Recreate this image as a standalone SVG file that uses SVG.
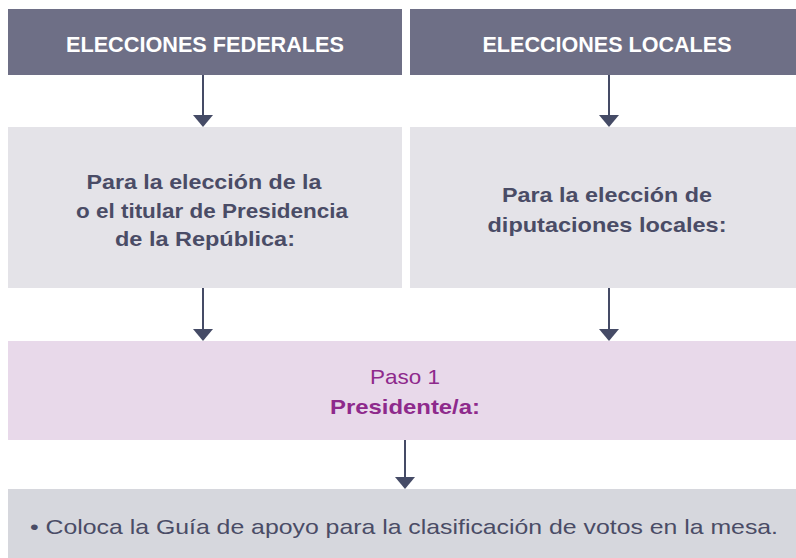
<svg xmlns="http://www.w3.org/2000/svg" width="796" height="558" viewBox="0 0 796 558">
<defs>
<style>
.hdr{fill:#6e6f86}
.gry{fill:#e4e3e8}
.pnk{fill:#e8d9ea}
.bot{fill:#d6d7dd}
.ht{font-family:"Liberation Sans",Arial,sans-serif;font-size:22px;font-weight:bold;fill:#ffffff;text-anchor:middle}
.bt{font-family:"Liberation Sans",Arial,sans-serif;font-size:21px;font-weight:bold;fill:#4a4c66;text-anchor:middle}
.pt{font-family:"Liberation Sans",Arial,sans-serif;font-size:21px;fill:#8e2a8c;text-anchor:middle}
.lt{font-family:"Liberation Sans",Arial,sans-serif;font-size:21px;fill:#4a4c66}
.con{stroke:#454b66;stroke-width:2;fill:none}
.head{fill:#454b66}
</style>
</defs>
<rect width="796" height="558" fill="#ffffff"/>
<g id="n-federales"><rect class="hdr" x="8" y="9" width="394" height="66"/><text class="ht" x="205" y="52" textLength="278" lengthAdjust="spacingAndGlyphs">ELECCIONES FEDERALES</text></g>
<g id="n-locales"><rect class="hdr" x="410" y="9" width="386" height="66"/><text class="ht" x="607" y="52" textLength="249" lengthAdjust="spacingAndGlyphs">ELECCIONES LOCALES</text></g>
<g id="n-presidencia"><rect class="gry" x="8" y="127" width="394" height="161"/>
<text class="bt" x="204" y="189" textLength="235" lengthAdjust="spacingAndGlyphs">Para la elección de la</text>
<text class="bt" x="212" y="218" textLength="272" lengthAdjust="spacingAndGlyphs">o el titular de Presidencia</text>
<text class="bt" x="205" y="246" textLength="180" lengthAdjust="spacingAndGlyphs">de la República:</text></g>
<g id="n-diputaciones"><rect class="gry" x="410" y="127" width="386" height="161"/>
<text class="bt" x="607" y="202" textLength="210" lengthAdjust="spacingAndGlyphs">Para la elección de</text>
<text class="bt" x="607" y="232" textLength="239" lengthAdjust="spacingAndGlyphs">diputaciones locales:</text></g>
<g id="n-paso1"><rect class="pnk" x="8" y="341" width="788" height="99"/>
<text class="pt" x="405" y="384" textLength="70" lengthAdjust="spacingAndGlyphs">Paso 1</text>
<text class="pt" x="405" y="414" font-weight="bold" textLength="150" lengthAdjust="spacingAndGlyphs">Presidente/a:</text></g>
<g id="n-guia"><rect class="bot" x="8" y="489" width="788" height="69"/>
<text class="lt" x="30" y="534" textLength="748" lengthAdjust="spacingAndGlyphs">• Coloca la Guía de apoyo para la clasificación de votos en la mesa.</text></g>
<g id="connectors">
<line class="con" x1="203" y1="75" x2="203" y2="116"/><path class="head" d="M193,115 L213,115 L203,127 Z"/>
<line class="con" x1="609" y1="75" x2="609" y2="116"/><path class="head" d="M599,115 L619,115 L609,127 Z"/>
<line class="con" x1="203" y1="288" x2="203" y2="330"/><path class="head" d="M193,329 L213,329 L203,341 Z"/>
<line class="con" x1="609" y1="288" x2="609" y2="330"/><path class="head" d="M599,329 L619,329 L609,341 Z"/>
<line class="con" x1="405" y1="440" x2="405" y2="478"/><path class="head" d="M395,477 L415,477 L405,489 Z"/>
</g>
</svg>
